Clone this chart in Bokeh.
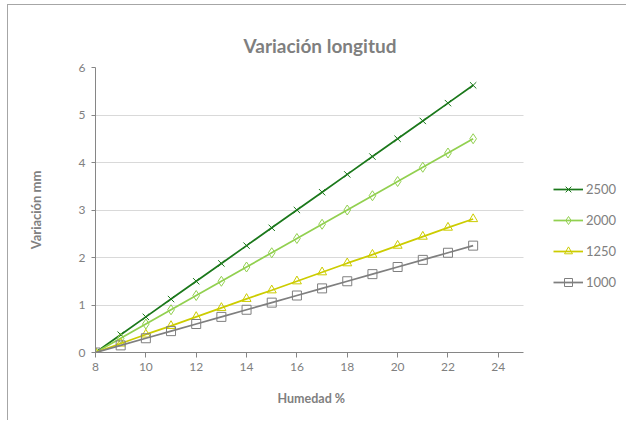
from bokeh.plotting import figure
from bokeh.models import Legend, LegendItem, FixedTicker, Range1d, Title
from bokeh.embed import file_html
from bokeh.resources import INLINE

humedad = [8, 9, 10, 11, 12, 13, 14, 15, 16, 17, 18, 19, 20, 21, 22, 23]
s2500 = [0, 0.375, 0.75, 1.125, 1.5, 1.875, 2.25, 2.625, 3.0, 3.375, 3.75, 4.125, 4.5, 4.875, 5.25, 5.625]
s2000 = [0, 0.3, 0.6, 0.9, 1.2, 1.5, 1.8, 2.1, 2.4, 2.7, 3.0, 3.3, 3.6, 3.9, 4.2, 4.5]
s1250 = [0, 0.19, 0.38, 0.56, 0.75, 0.94, 1.13, 1.31, 1.5, 1.69, 1.88, 2.06, 2.25, 2.44, 2.63, 2.81]
s1000 = [0, 0.15, 0.3, 0.45, 0.6, 0.75, 0.9, 1.05, 1.2, 1.35, 1.5, 1.65, 1.8, 1.95, 2.1, 2.25]
series_names = ["2500", "2000", "1250", "1000"]
x_ticks = [8, 10, 12, 14, 16, 18, 20, 22, 24]
y_ticks = [0, 1, 2, 3, 4, 5, 6]
x_axis_span = (8, 25)

FONT = "Lato"
GRAY = "#808080"

W, H = 619, 416
ML, MR, MT, MB = 87, 5, 62, 69
frame_w = W - ML - MR
px_per_unit = 428 / 17.0
x_end = 8 + frame_w / px_per_unit

p = figure(width=W, height=H, output_backend="svg", toolbar_location=None,
           x_range=Range1d(8, x_end), y_range=Range1d(0, 6),
           min_border_left=ML, min_border_right=MR, min_border_top=MT, min_border_bottom=MB)
p.styles = {"border-left": "1px solid #a6a6a6", "border-top": "1px solid #a6a6a6",
            "margin-left": "7px", "margin-top": "4px"}
p.outline_line_color = None
p.background_fill_color = "white"

p.title.text = "Variación longitud"
p.title.align = "left"
p.title.offset = 148
p.title.text_font = FONT
p.title.text_font_size = "19px"
p.title.text_font_style = "bold"
p.title.text_color = "#7f7f7f"
p.title.standoff = 21

p.xgrid.grid_line_color = None
p.ygrid.grid_line_color = "#d9d9d9"
p.ygrid.grid_line_width = 1
p.ygrid.ticker = FixedTicker(ticks=y_ticks[1:])
try:
    p.ygrid.cross_bounds = x_axis_span
except Exception:
    p.ygrid.grid_line_color = None
    p.segment(x0=[x_axis_span[0]] * (len(y_ticks) - 1), x1=[x_axis_span[1]] * (len(y_ticks) - 1),
              y0=y_ticks[1:], y1=y_ticks[1:], line_color="#d9d9d9", line_width=1)

for ax in (p.xaxis[0], p.yaxis[0]):
    ax.axis_line_color = "#868686"
    ax.major_tick_line_color = "#868686"
    ax.minor_tick_line_color = None
    ax.major_tick_in = 0
    ax.major_label_text_font = FONT
    ax.major_label_text_font_size = "12px"
    ax.major_label_text_color = GRAY
    ax.axis_label_text_font = FONT
    ax.axis_label_text_font_size = "12px"
    ax.axis_label_text_font_style = "bold"
    ax.axis_label_text_color = GRAY

p.xaxis[0].ticker = FixedTicker(ticks=x_ticks)
p.xaxis[0].bounds = x_axis_span
p.xaxis[0].major_tick_out = 5
p.xaxis[0].major_label_standoff = 5

xlabel = Title(text="Humedad %", align="left", offset=182, text_font=FONT,
               text_font_size="12.5px", text_font_style="bold", text_color=GRAY, standoff=30)
p.add_layout(xlabel, "below")

p.yaxis[0].ticker = FixedTicker(ticks=y_ticks)
p.yaxis[0].major_tick_out = 4
p.yaxis[0].major_label_standoff = 6
p.yaxis[0].axis_label = "Variación mm"
p.yaxis[0].axis_label_text_font_size = "13px"
p.yaxis[0].axis_label_standoff = 32

colors = ["#1b781b", "#92d050", "#cccc00", "#7f7f7f"]
markers = ["x", "diamond", "triangle", "square"]
sizes = [9, 10, 9, 9]
data = [s2500, s2000, s1250, s1000]

items = []
for name, ys, c, m, s in zip(series_names, data, colors, markers, sizes):
    l = p.line(humedad, ys, line_color=c, line_width=1.75)
    sc = p.scatter(humedad, ys, marker=m, size=s, line_color=c, fill_color=None, line_width=1)
    items.append(LegendItem(label=name, renderers=[l, sc]))

legend = Legend(items=items, location=(458, 60))
legend.border_line_color = None
legend.background_fill_color = None
legend.glyph_width = 30
legend.glyph_height = 20
legend.label_standoff = 3
legend.spacing = 11
legend.padding = 0
legend.margin = 0
legend.label_text_font = FONT
legend.label_text_font_size = "13px"
legend.label_text_color = GRAY
p.add_layout(legend, "center")

open("out.html", "w").write(file_html(p, INLINE))
